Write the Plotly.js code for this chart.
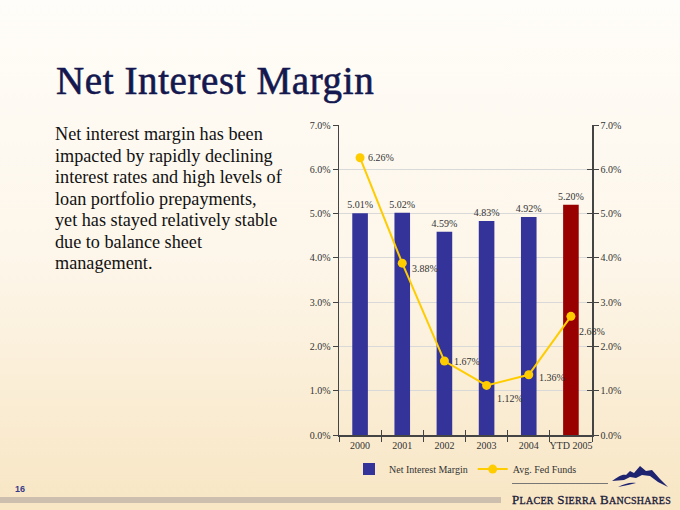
<!DOCTYPE html>
<html>
<head>
<meta charset="utf-8">
<script src="https://cdn.plot.ly/plotly-3.0.1.min.js"></script>
<style>
  html, body { margin:0; padding:0; width:680px; height:510px; overflow:hidden; }
  body { background: linear-gradient(to bottom, #FFFDF9 0%, #FDF6EA 50%, #F8E6C4 100%); position:relative; font-family:"Liberation Serif", serif; }
  #chart { position:absolute; left:0; top:0; width:680px; height:510px; }
  .title { position:absolute; left:56px; top:58px; font-size:39px; font-weight:normal; -webkit-text-stroke:0.6px #14184F; color:#14184F; white-space:nowrap; letter-spacing:0.6px; }
  .body { position:absolute; left:55px; top:124px; font-size:18.2px; line-height:21.5px; color:#111; white-space:nowrap; }
  .pnum { position:absolute; left:15px; top:484px; font-family:"Liberation Sans", sans-serif; font-weight:bold; font-size:9px; color:#3A3A8A; }
  .stripe { position:absolute; left:0; top:497px; width:501px; height:6px; background:#CDBFAE; }
  .logoline { position:absolute; left:512px; top:483px; width:96px; height:1px; background:#777; }
  .logotext { position:absolute; left:512px; top:492px; font-size:13px; color:#1A1A3A; white-space:nowrap; letter-spacing:0.3px; -webkit-text-stroke:0.3px #1A1A3A; }
  .logotext .sc { font-size:10px; }
  svg.mtn { position:absolute; left:612px; top:465px; }
</style>
</head>
<body>
<div class="title">Net Interest Margin</div>
<div class="body">Net interest margin has been<br>impacted by rapidly declining<br>interest rates and high levels of<br>loan portfolio prepayments,<br>yet has stayed relatively stable<br>due to balance sheet<br>management.</div>
<div class="pnum">16</div>
<div class="stripe"></div>
<div class="logoline"></div>
<svg class="mtn" width="58" height="28" viewBox="0 0 58 28">
  <path d="M0,16 C6,12 10,9 14,10 L18,6 L22,8 L28,1 L34,6 L40,5 L48,14 L56,22 L46,17 L38,11 L30,10 L24,13 L18,12 L12,15 Z" fill="#1F2470"/>
  <path d="M6,22 C12,19 18,17 24,18 L16,20 Z" fill="#1F2470"/>
</svg>
<div class="logotext">P<span class="sc">LACER</span> S<span class="sc">IERRA</span> B<span class="sc">ANCSHARES</span></div>
<div id="chart"></div>
<script>
const years = ["2000", "2001", "2002", "2003", "2004", "YTD 2005"];
const netInterestMargin = [5.01, 5.02, 4.59, 4.83, 4.92, 5.20];
const avgFedFunds = [6.26, 3.88, 1.67, 1.12, 1.36, 2.68];
const barColors = ["#333399", "#333399", "#333399", "#333399", "#333399", "#990000"];
const fedLabelShiftY = [0, -5, 0, -13, -3, -15];
const fedLabelShiftX = [6, 8, 8, 8, 8, 6];
const yTicks = [0, 1, 2, 3, 4, 5, 6, 7];

const fmt = v => v.toFixed(2) + "%";
const tickText = yTicks.map(v => v.toFixed(1) + "%");
const axisFont = { family: "Liberation Serif, serif", size: 10, color: "#333" };

const traces = [
  {
    type: "bar", name: "Net Interest Margin", x: years, y: netInterestMargin,
    marker: { color: barColors, line: { width: 0 } },
    text: netInterestMargin.map(fmt), textposition: "outside", cliponaxis: false,
    constraintext: "none", textfont: axisFont, hoverinfo: "skip"
  },
  {
    type: "scatter", mode: "lines+markers", name: "Avg. Fed Funds", x: years, y: avgFedFunds,
    line: { color: "#FFCC00", width: 2 }, marker: { color: "#FFCC00", size: 9 },
    hoverinfo: "skip"
  },
  {
    type: "scatter", mode: "none", x: years, y: avgFedFunds, yaxis: "y2",
    showlegend: false, hoverinfo: "skip"
  },
  {
    type: "scatter", mode: "none", x: years, y: avgFedFunds, xaxis: "x2", yaxis: "y3",
    showlegend: false, hoverinfo: "skip"
  }
];

const annotations = years.map((yr, i) => ({
  x: i, y: avgFedFunds[i], xref: "x", yref: "y", text: fmt(avgFedFunds[i]),
  showarrow: false, xanchor: "left", yanchor: "middle",
  xshift: fedLabelShiftX[i], yshift: fedLabelShiftY[i],
  font: axisFont
}));

const layout = {
  width: 680, height: 510,
  margin: { l: 339, r: 88, t: 125, b: 75 },
  paper_bgcolor: "rgba(0,0,0,0)", plot_bgcolor: "rgba(0,0,0,0)",
  bargap: 0.63,
  showlegend: true,
  legend: { orientation: "h", x: 0.5, xanchor: "center", y: -0.11, yanchor: "middle",
    font: axisFont, bgcolor: "rgba(0,0,0,0)" },
  xaxis: {
    type: "category", categoryorder: "array", categoryarray: years, range: [-0.5, 5.5],
    showline: true, linecolor: "#444", linewidth: 1.5,
    ticks: "outside", tickson: "boundaries", ticklen: 5, tickcolor: "#444",
    tickfont: axisFont, tickangle: 0,
    showgrid: false, zeroline: false
  },
  xaxis2: {
    type: "category", categoryorder: "array", categoryarray: years, range: [-0.5, 5.5],
    overlaying: "x", anchor: "y", side: "bottom",
    showline: false, ticks: "inside", tickson: "boundaries", ticklen: 5, tickcolor: "#444",
    showticklabels: false, showgrid: false, zeroline: false
  },
  yaxis: {
    range: [0, 7], tickvals: yTicks, ticktext: tickText,
    showline: true, linecolor: "#444", linewidth: 1.5,
    ticks: "outside", ticklen: 5, tickcolor: "#444",
    gridcolor: "#D9D9D9", gridwidth: 1, zeroline: false,
    tickfont: axisFont
  },
  yaxis2: {
    range: [0, 7], tickvals: yTicks, ticktext: tickText, overlaying: "y", side: "right",
    showline: true, linecolor: "#444", linewidth: 1.5,
    ticks: "outside", ticklen: 5, tickcolor: "#444",
    showgrid: false, zeroline: false,
    tickfont: axisFont
  },
  yaxis3: {
    range: [0, 7], tickvals: yTicks, overlaying: "y", side: "right", anchor: "x",
    showline: false, ticks: "inside", ticklen: 5, tickcolor: "#444",
    showticklabels: false, showgrid: false, zeroline: false
  },
  annotations: annotations
};

Plotly.newPlot("chart", traces, layout, { displayModeBar: false, staticPlot: true });
</script>
</body>
</html>
